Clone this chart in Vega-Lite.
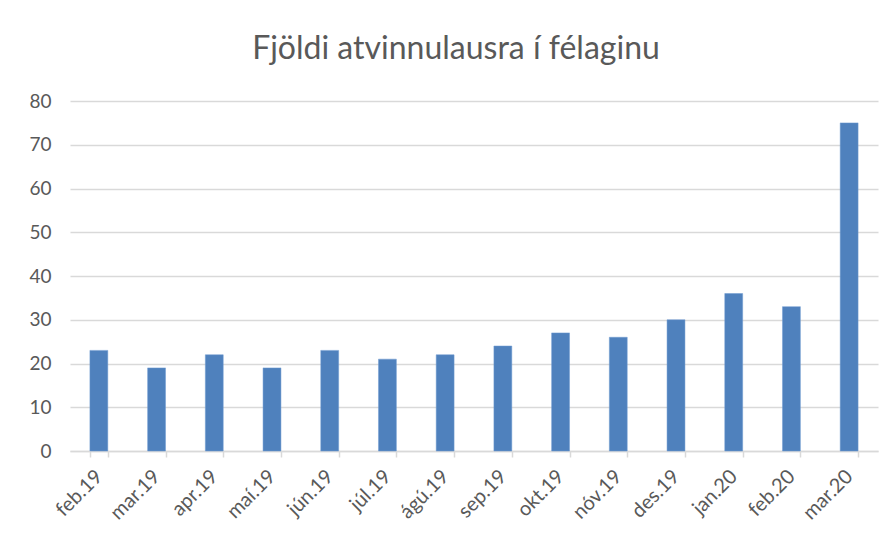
{
  "$schema": "https://vega.github.io/schema/vega-lite/v6.json",
  "width": 808,
  "height": 350,
  "autosize": "none",
  "padding": {"left": 70, "top": 101, "right": 14, "bottom": 89},
  "background": "white",
  "title": {
    "text": "Fjöldi atvinnulausra í félaginu",
    "font": "Lato",
    "fontSize": 32,
    "fontWeight": "normal",
    "color": "#595959",
    "anchor": "middle",
    "dx": -18,
    "offset": 26
  },
  "data": {
    "values": [
      {"month": "feb.19", "value": 23},
      {"month": "mar.19", "value": 19},
      {"month": "apr.19", "value": 22},
      {"month": "maí.19", "value": 19},
      {"month": "jún.19", "value": 23},
      {"month": "júl.19", "value": 21},
      {"month": "ágú.19", "value": 22},
      {"month": "sep.19", "value": 24},
      {"month": "okt.19", "value": 27},
      {"month": "nóv.19", "value": 26},
      {"month": "des.19", "value": 30},
      {"month": "jan.20", "value": 36},
      {"month": "feb.20", "value": 33},
      {"month": "mar.20", "value": 75}
    ]
  },
  "mark": {"type": "bar", "color": "#4f81bd", "stroke": "#6f9ad0", "strokeWidth": 0.5},
  "encoding": {
    "x": {
      "field": "month",
      "type": "nominal",
      "sort": null,
      "scale": {"paddingInner": 0.69, "paddingOuter": 0.345},
      "axis": {
        "title": null,
        "labelAngle": -45,
        "labelAlign": "right",
        "labelBaseline": "middle",
        "labelFont": "Lato",
        "labelFontSize": 20,
        "labelColor": "#595959",
        "labelPadding": 16,
        "tickBand": "extent",
        "tickColor": "#d9d9d9",
        "tickSize": 6,
        "tickWidth": 1.5,
        "domainColor": "#d9d9d9",
        "domainWidth": 1.5,
        "grid": false
      }
    },
    "y": {
      "field": "value",
      "type": "quantitative",
      "scale": {"domain": [0, 80]},
      "axis": {
        "title": null,
        "values": [0, 10, 20, 30, 40, 50, 60, 70, 80],
        "labelFont": "Lato",
        "labelFontSize": 19,
        "labelColor": "#595959",
        "labelPadding": 19,
        "ticks": false,
        "domain": false,
        "grid": true,
        "gridColor": "#d9d9d9",
        "gridWidth": 1.5
      }
    }
  },
  "config": {"view": {"stroke": null}}
}
